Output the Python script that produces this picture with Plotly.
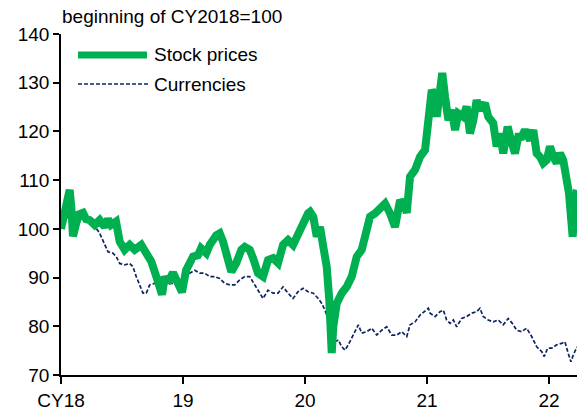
import pandas as pd
import plotly.graph_objects as go

# ---- data (time in decimal years, values: beginning of CY2018 = 100) ----
stock_t = [2018.000, 2018.025, 2018.049, 2018.071, 2018.086, 2018.098, 2018.123, 2018.148, 2018.180, 2018.205,
           2018.235, 2018.276, 2018.317, 2018.358, 2018.385, 2018.410, 2018.451, 2018.481, 2018.522, 2018.563,
           2018.604, 2018.658, 2018.699, 2018.740, 2018.781, 2018.809, 2018.828, 2018.850, 2018.877, 2018.918,
           2018.959, 2018.992, 2019.025, 2019.041, 2019.082, 2019.123, 2019.148, 2019.191, 2019.219, 2019.273,
           2019.301, 2019.328, 2019.355, 2019.396, 2019.437, 2019.478, 2019.506, 2019.547, 2019.574, 2019.615,
           2019.656, 2019.697, 2019.738, 2019.779, 2019.820, 2019.861, 2019.902, 2019.943, 2019.984, 2020.025,
           2020.041, 2020.068, 2020.096, 2020.123, 2020.150, 2020.178, 2020.199, 2020.219, 2020.232, 2020.260,
           2020.301, 2020.342, 2020.383, 2020.424, 2020.465, 2020.506, 2020.533, 2020.574, 2020.615, 2020.656,
           2020.697, 2020.738, 2020.779, 2020.820, 2020.834, 2020.861, 2020.902, 2020.943, 2020.984, 2021.011,
           2021.039, 2021.066, 2021.080, 2021.107, 2021.125, 2021.148, 2021.175, 2021.202, 2021.230, 2021.257,
           2021.298, 2021.325, 2021.352, 2021.380, 2021.407, 2021.434, 2021.475, 2021.502, 2021.543, 2021.571,
           2021.598, 2021.625, 2021.661, 2021.689, 2021.721, 2021.748, 2021.776, 2021.803, 2021.844, 2021.871,
           2021.899, 2021.926, 2021.953, 2021.981, 2022.008, 2022.035, 2022.063, 2022.090, 2022.117, 2022.145,
           2022.164, 2022.180, 2022.194, 2022.213, 2022.230]
stock_v = [100.0, 102.5, 105.0, 108.0, 104.0, 98.5, 101.0, 103.0, 103.3, 102.0,
           101.8, 100.8, 101.8, 100.4, 102.0, 100.8, 101.5, 97.4, 95.7, 96.7,
           95.7, 96.7, 95.0, 93.3, 90.2, 88.5, 86.5, 90.2, 89.0, 91.0,
           88.5, 87.0, 91.5, 92.2, 94.3, 94.6, 96.0, 95.0, 96.7, 98.7,
           99.1, 97.4, 94.3, 91.2, 93.0, 95.7, 96.3, 95.7, 94.0, 90.9,
           90.2, 93.6, 94.0, 93.0, 96.7, 97.7, 96.7, 99.1, 101.8, 103.2,
           103.5, 102.5, 98.4, 100.4, 96.3, 92.2, 85.4, 74.5, 79.9, 84.7,
           86.8, 88.1, 90.2, 94.3, 95.7, 99.8, 102.5, 103.2, 104.5, 105.2,
           103.2, 100.4, 105.9, 104.5, 103.3, 110.7, 112.1, 114.8, 116.2, 124.4,
           128.5, 127.1, 123.0, 128.5, 132.0, 127.1, 122.3, 124.4, 120.3, 123.7,
           123.0, 125.1, 119.6, 122.3, 126.4, 124.4, 125.8, 123.0, 121.7, 116.9,
           119.6, 115.5, 121.0, 118.2, 115.5, 118.9, 118.9, 120.3, 118.2, 120.3,
           115.5, 114.8, 113.5, 114.1, 116.9, 114.8, 113.5, 115.5, 114.1, 110.0,
           107.3, 102.5, 98.4, 105.9, 108.0]

curr_t = [2018.000, 2018.030, 2018.057, 2018.084, 2018.125, 2018.166, 2018.207, 2018.248, 2018.289, 2018.317,
          2018.358, 2018.385, 2018.426, 2018.453, 2018.481, 2018.522, 2018.563, 2018.590, 2018.617, 2018.645,
          2018.672, 2018.699, 2018.727, 2018.768, 2018.809, 2018.850, 2018.904, 2018.959, 2019.014, 2019.055,
          2019.096, 2019.137, 2019.178, 2019.219, 2019.260, 2019.301, 2019.342, 2019.383, 2019.424, 2019.465,
          2019.506, 2019.547, 2019.588, 2019.629, 2019.656, 2019.697, 2019.738, 2019.779, 2019.820, 2019.861,
          2019.902, 2019.943, 2019.984, 2020.025, 2020.068, 2020.109, 2020.137, 2020.164, 2020.191, 2020.211,
          2020.227, 2020.246, 2020.273, 2020.301, 2020.328, 2020.355, 2020.396, 2020.437, 2020.465, 2020.506,
          2020.547, 2020.588, 2020.629, 2020.670, 2020.711, 2020.752, 2020.793, 2020.834, 2020.861, 2020.902,
          2020.943, 2020.984, 2021.011, 2021.025, 2021.066, 2021.107, 2021.134, 2021.161, 2021.189, 2021.216,
          2021.243, 2021.284, 2021.325, 2021.366, 2021.407, 2021.434, 2021.461, 2021.502, 2021.543, 2021.584,
          2021.625, 2021.666, 2021.699, 2021.735, 2021.776, 2021.817, 2021.858, 2021.899, 2021.940, 2021.961,
          2021.989, 2022.022, 2022.063, 2022.104, 2022.131, 2022.158, 2022.180, 2022.199, 2022.230]
curr_v = [100.0, 101.2, 102.8, 102.5, 102.2, 102.2, 101.8, 101.1, 100.1, 99.1,
          96.7, 95.3, 95.0, 94.3, 92.9, 92.6, 92.9, 92.2, 90.2, 88.5,
          86.8, 86.8, 88.5, 88.8, 89.2, 88.5, 88.8, 88.8, 90.2, 90.9,
          91.5, 90.9, 90.9, 90.2, 90.2, 89.8, 88.8, 88.5, 88.5, 89.5,
          90.2, 90.2, 88.5, 86.8, 85.7, 87.4, 86.8, 86.8, 88.1, 86.8,
          85.7, 87.1, 87.8, 87.1, 86.8, 85.7, 84.7, 83.3, 81.3, 78.6,
          76.5, 76.8, 77.2, 75.8, 75.1, 76.2, 78.2, 80.3, 78.6, 78.9,
          79.6, 78.2, 79.2, 79.9, 78.2, 78.2, 78.9, 77.9, 80.3, 80.9,
          82.3, 83.2, 83.7, 82.7, 82.0, 83.0, 83.3, 81.3, 80.6, 81.3,
          79.9, 81.6, 82.0, 82.7, 83.0, 83.7, 82.0, 81.3, 80.9, 81.3,
          80.3, 81.6, 80.6, 79.2, 78.9, 79.6, 77.9, 75.8, 74.8, 73.8,
          75.5, 75.5, 76.2, 76.5, 76.8, 74.4, 72.7, 74.1, 75.8]

tick_years = [2018, 2019, 2020, 2021, 2022]
tick_text = ["CY18", "19", "20", "21", "22"]
series_names = ["Stock prices", "Currencies"]
y_title = "beginning of CY2018=100"


def to_date(years):
    base = pd.Timestamp("2018-01-01")
    return [base + pd.Timedelta(days=(y - 2018) * 365.25) for y in years]


GREEN = "#00b050"
NAVY = "#0d2462"
FONT = "Arial, Liberation Sans, sans-serif"

W, H = 577, 416
ML, MR, MT, MB = 61, 0, 34, 41
PW, PH = W - ML - MR, H - MT - MB


def px(x):
    return (x - ML) / PW


def py(y):
    return (H - MB - y) / PH


fig = go.Figure()
fig.add_trace(go.Scatter(x=to_date(curr_t), y=curr_v, mode="lines", name=series_names[1],
                         line=dict(color=NAVY, width=1.7, dash="4px,2px")))
fig.add_trace(go.Scatter(x=to_date(stock_t), y=stock_v, mode="lines", name=series_names[0],
                         line=dict(color=GREEN, width=8)))

x_end = to_date([2022.2295])[0]
fig.update_xaxes(range=[pd.Timestamp("2018-01-01"), x_end], tickvals=to_date(tick_years), ticktext=tick_text,
                 showgrid=False, zeroline=False, showline=True, linecolor="black", linewidth=1.5,
                 ticks="outside", ticklen=7, tickwidth=1.5, tickcolor="black", automargin=False,
                 tickfont=dict(family=FONT, size=19, color="black"))
fig.update_yaxes(range=[70, 140], tickvals=[70, 80, 90, 100, 110, 120, 130, 140],
                 showgrid=False, zeroline=False, showline=True, linecolor="black", linewidth=1.5,
                 ticks="outside", ticklen=6, tickwidth=1.5, tickcolor="black", automargin=False,
                 tickfont=dict(family=FONT, size=19, color="black"))

# legend drawn manually
fig.add_shape(type="line", xref="paper", yref="paper", x0=px(78), x1=px(147), y0=py(55), y1=py(55),
              line=dict(color=GREEN, width=7))
fig.add_shape(type="line", xref="paper", yref="paper", x0=px(78), x1=px(148), y0=py(84), y1=py(84),
              line=dict(color=NAVY, width=1.7, dash="4px,2px"))
fig.add_annotation(xref="paper", yref="paper", x=px(152), y=py(55), xanchor="left", yanchor="middle",
                   text=series_names[0], showarrow=False, font=dict(family=FONT, size=19, color="black"))
fig.add_annotation(xref="paper", yref="paper", x=px(152), y=py(84), xanchor="left", yanchor="middle",
                   text=series_names[1], showarrow=False, font=dict(family=FONT, size=19, color="black"))
fig.add_annotation(xref="paper", yref="paper", x=px(60), y=py(16), xanchor="left", yanchor="middle",
                   text=y_title, showarrow=False, font=dict(family=FONT, size=19, color="black"))

fig.update_layout(width=W, height=H, margin=dict(l=ML, r=MR, t=MT, b=MB),
                  paper_bgcolor="white", plot_bgcolor="white", showlegend=False)

fig.write_html("out.html", config={"displayModeBar": False},
               post_script="document.body.style.margin='0';document.body.style.overflow='hidden';")
